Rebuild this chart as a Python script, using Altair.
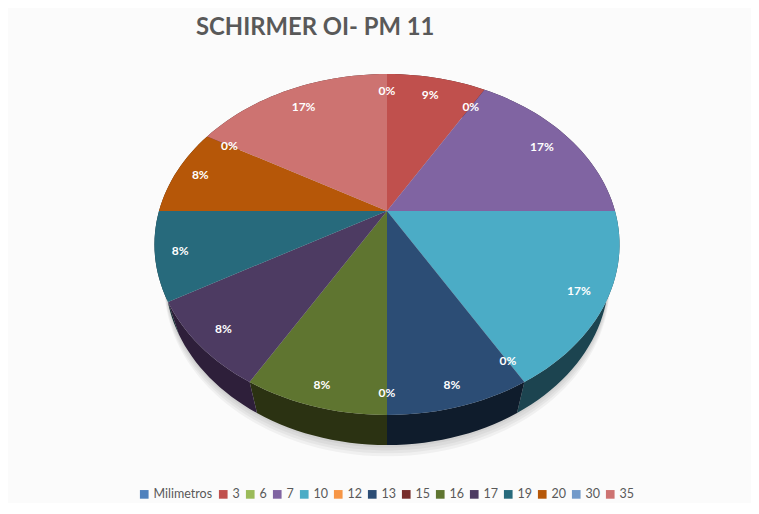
import math
import altair as alt

categories = ["Milimetros", "3", "6", "7", "10", "12", "13", "15", "16", "17", "19", "20", "30", "35"]
values = [0, 1, 0, 2, 2, 0, 1, 0, 1, 1, 1, 1, 0, 2]
labels = ["0%", "9%", "0%", "17%", "17%", "0%", "8%", "0%", "8%", "8%", "8%", "8%", "0%", "17%"]
label_radius = [0.855, 0.848, 0.84, 0.85, 0.887, 0.898, 0.911, 0.911, 0.911, 0.889, 0.896, 0.886, 0.866, 0.836]
colors = ["#4f81bd", "#c0504d", "#9bbb59", "#8064a2", "#4bacc6", "#f79646", "#2c4d75",
          "#772c2a", "#5f7530", "#4d3b62", "#276a7c", "#b65708", "#729aca", "#cd7371"]
side_colors = ["#1e3148", "#4a1f1e", "#3c4922", "#32273f", "#1c4450", "#60391b", "#0f1c2c",
               "#2e1110", "#2b3212", "#2e1f3a", "#0f2930", "#472203", "#2c3c4e", "#4f2c2c"]

# Tilted-disc view of the pie: perspective parameters for the drawing plane
A, B, K = 228.0, 163.9, 0.1965
C, D = 35.2, 0.047


def project(theta, r=1.0, z=0.0):
    u, v = r * math.sin(theta), -r * math.cos(theta)
    w = 1 - K * v + D * z
    return [A * u / w, (B * v + C * z) / w]


def arc(start, end, r=1.0, z=0.0, steps=48):
    n = max(2, int(steps * (end - start) / (2 * math.pi)) + 2)
    return [project(start + (end - start) * i / (n - 1), r, z) for i in range(n)]


def feature(ring, **props):
    return {"type": "Feature", "properties": props,
            "geometry": {"type": "Polygon", "coordinates": [ring + [ring[0]]]}}


total = sum(values)
tops, sides, text_rows = [], [], []
angle = 0.0
for cat, val, lab, rad, dark in zip(categories, values, labels, label_radius, side_colors):
    sweep = 2 * math.pi * val / total
    mid = angle + sweep / 2
    if val > 0:
        tops.append(feature([[0.0, 0.0]] + arc(angle, angle + sweep, steps=180), cat=cat))
        upper = arc(angle, angle + sweep, steps=180)
        lower = arc(angle, angle + sweep, z=1.0, steps=180)
        sides.append(feature(upper + lower[::-1], dark=dark))
    lon, lat = project(mid, rad)
    text_rows.append({"lon": lon, "lat": lat, "label": lab})
    angle += sweep

shadow_steps = [(1.004, 1.05), (1.008, 1.12), (1.012, 1.19), (1.016, 1.26)]
shadows = [feature(arc(0, 2 * math.pi, r, z, steps=180)) for r, z in shadow_steps]

PROJ = dict(type="identity", scale=1, translate=[379, 203])

shadow_layer = (
    alt.Chart(alt.Data(values=shadows))
    .mark_geoshape(fill="#000000", fillOpacity=0.045, strokeWidth=0)
    .project(**PROJ)
)
side_layer = (
    alt.Chart(alt.Data(values=sides))
    .mark_geoshape(strokeWidth=0)
    .encode(color=alt.Color("properties.dark:N", scale=None, legend=None))
    .project(**PROJ)
)
top_layer = (
    alt.Chart(alt.Data(values=tops))
    .mark_geoshape(strokeWidth=0)
    .encode(
        color=alt.Color(
            "properties.cat:N",
            scale=alt.Scale(domain=categories, range=colors),
            legend=alt.Legend(
                orient="none", legendX=130, legendY=480, direction="horizontal",
                columns=14, title=None, symbolType="square", symbolSize=75,
                symbolStrokeWidth=0, labelFont="Lato", labelFontSize=12.5,
                labelColor="#595959", columnPadding=4, labelOffset=3,
                padding=0,
            ),
        )
    )
    .project(**PROJ)
)
text_layer = (
    alt.Chart(alt.Data(values=text_rows))
    .mark_text(font="Lato", fontSize=12, fontWeight="bold", color="#ffffff")
    .encode(longitude="lon:Q", latitude="lat:Q", text="label:N")
    .project(**PROJ)
)

chart = (
    alt.layer(shadow_layer, side_layer, top_layer, text_layer)
    .resolve_scale(color="independent")
    .properties(
        width=743,
        height=495,
        padding=0,
        autosize=alt.AutoSizeParams(type="none"),
        background="#fbfbfb",
        title=alt.TitleParams(
            "SCHIRMER OI- PM 11", anchor="start", dx=188, dy=36, font="Lato",
            fontSize=23.8, fontWeight="bold", color="#595959",
        ),
    )
    .configure_view(stroke="#d9d9d9", strokeWidth=1)
)

chart.save("out.html", embed_options={"renderer": "svg", "actions": False})
